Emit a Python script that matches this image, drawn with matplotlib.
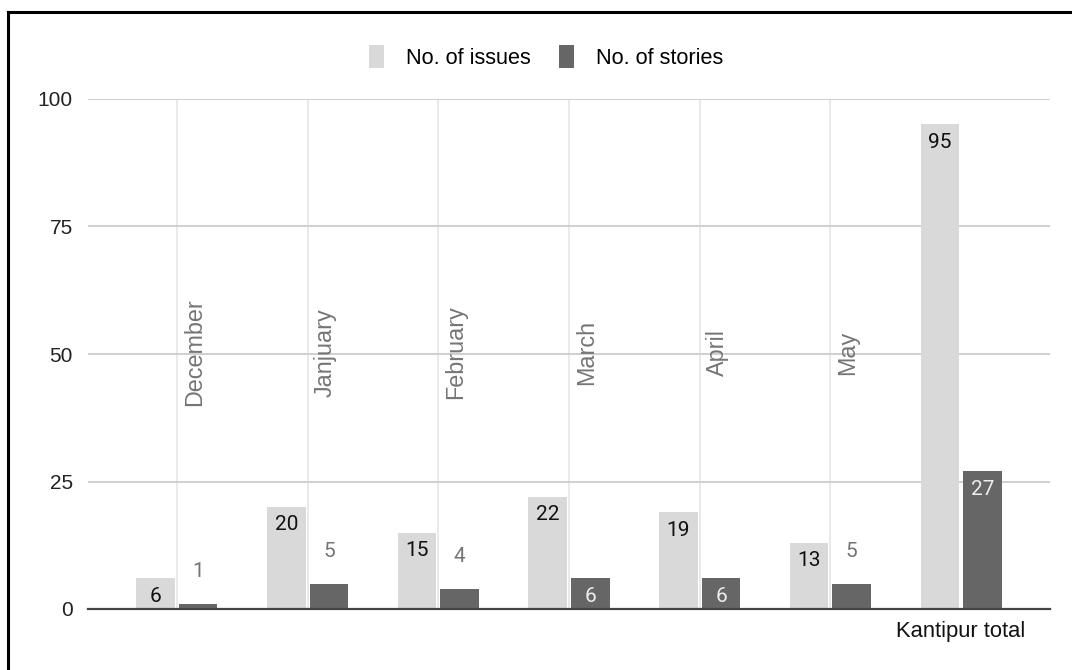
import matplotlib
matplotlib.use("Agg")
import matplotlib.pyplot as plt
from matplotlib.patches import Patch
from matplotlib.lines import Line2D
import numpy as np

categories = ["December", "Janjuary", "February", "March", "April", "May", "Kantipur total"]
issues = [6, 20, 15, 22, 19, 13, 95]
stories = [1, 5, 4, 6, 6, 5, 27]
yticks = [0, 25, 50, 75, 100]

C_ISS = "#d9d9d9"
C_STO = "#666666"

plt.rcParams['font.family'] = ['Liberation Sans', 'DejaVu Sans']

fig = plt.figure(figsize=(10.72, 6.70), dpi=100)
ax = fig.add_axes([88/1072, 61/670, (1050-88)/1072, 510/670])

x = np.arange(len(categories))
w = 0.295
off = 0.163
ax.bar(x - off, issues, w, color=C_ISS, zorder=3)
ax.bar(x + off, stories, w, color=C_STO, zorder=3)

ax.set_xlim(-0.68, len(categories) - 1 + 0.68)
ax.set_ylim(0, 100)
ax.set_yticks(yticks)
ax.tick_params(axis='y', length=0, pad=11, labelsize=15, labelcolor="#222222")
ax.grid(axis='y', color="#cccccc", linewidth=1.3, zorder=0)
for s in ["top", "right", "left"]:
    ax.spines[s].set_visible(False)
ax.spines["bottom"].set_color("#444444")
ax.spines["bottom"].set_linewidth(1.6)
ax.spines["bottom"].set_zorder(4)

# x labels: last category below axis, months rotated inside plot
ax.set_xticks([len(categories) - 1])
ax.set_xticklabels([categories[-1]], fontsize=15.8, color="#111111")
ax.tick_params(axis='x', length=0, pad=9)

for i, c in enumerate(categories[:-1]):
    ax.axvline(i, color="#e6e6e6", linewidth=1.2, zorder=1)
    ax.text(i + 0.135, 50.3, c, rotation=90, ha='center', va='center',
            fontsize=16.8, color="#757575", zorder=2)

ppu = 510 / 100.0  # pixels per unit
def px(p):
    return p / ppu

for i, v in enumerate(issues):
    ax.text(x[i] - off, v - px(18), str(v), ha='center', va='center',
            fontsize=15, color="#111111", family=['Roboto', 'DejaVu Sans'], zorder=5)
for i, v in enumerate(stories):
    if v * ppu >= 30:
        ax.text(x[i] + off, v - px(18), str(v), ha='center', va='center',
                fontsize=15, color="#eeeeee", family=['Roboto', 'DejaVu Sans'], zorder=5)
    else:
        ax.text(x[i] + off, v + px(32), str(v), ha='center', va='center',
                fontsize=15, color="#757575", family=['Roboto', 'DejaVu Sans'], zorder=5)

handles = [Patch(facecolor=C_ISS, label="No. of issues"),
           Patch(facecolor=C_STO, label="No. of stories")]
fig.legend(handles=handles, loc='center', bbox_to_anchor=(546/1072, 1 - 57/670),
           ncol=2, frameon=False, fontsize=15.6, handlelength=0.7, handleheight=1.2,
           handletextpad=1.0, columnspacing=1.3)

# outer frame (top and left visible)
fig.add_artist(Line2D([8/1072, 1], [1 - 12/670, 1 - 12/670], color='black', linewidth=2.2,
                      transform=fig.transFigure))
fig.add_artist(Line2D([8/1072, 8/1072], [0, 1 - 12/670], color='black', linewidth=2.2,
                      transform=fig.transFigure))

fig.savefig("out.png", dpi=100)
